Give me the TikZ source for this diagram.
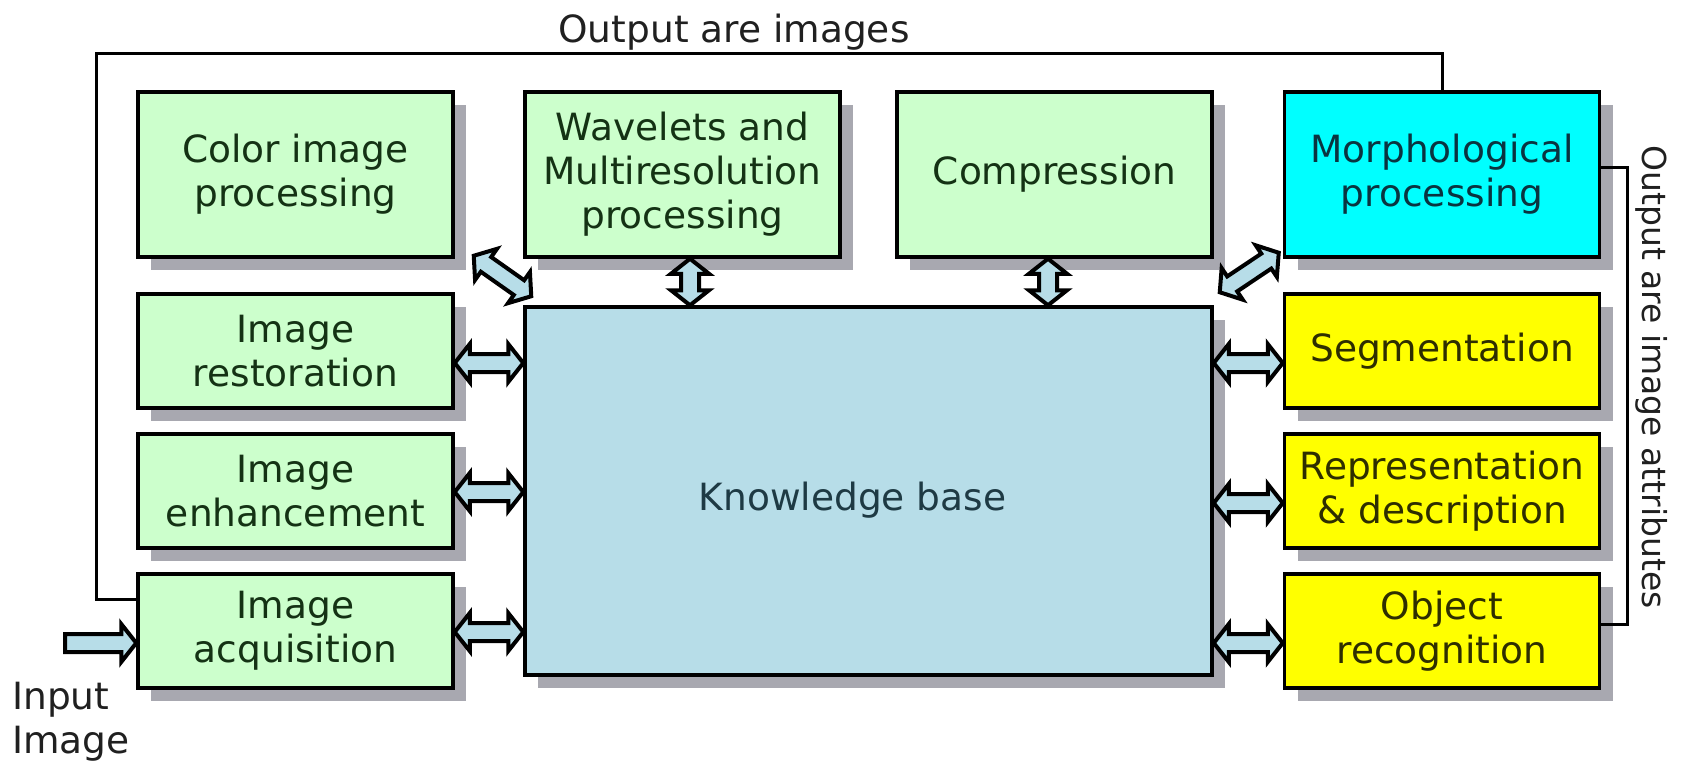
\documentclass[tikz,border=0pt]{standalone}
\usepackage{fontspec}
\setmainfont{DejaVu Sans}
\usetikzlibrary{calc,shadows}

\definecolor{boxgreen}{HTML}{CCFFCC}
\definecolor{boxcyan}{HTML}{00FFFF}
\definecolor{boxyellow}{HTML}{FFFF00}
\definecolor{kbblue}{HTML}{B7DDE8}
\definecolor{arrowblue}{HTML}{B7DDE8}
\definecolor{shade}{HTML}{A8A8B0}
\definecolor{txtgreen}{HTML}{143214}
\definecolor{txtcyan}{HTML}{0A3440}
\definecolor{txtyellow}{HTML}{2E2E00}
\definecolor{txtkb}{HTML}{1E3A44}
\definecolor{txtout}{HTML}{202020}

\tikzset{
  stage/.style={draw=black, line width=3.5pt, inner sep=0pt, align=center,
    font=\fontsize{37.5}{44}\selectfont,
    drop shadow={shadow xshift=13pt, shadow yshift=-13pt, fill=shade, opacity=1}},
  wide/.style={minimum width=315pt, minimum height=165pt},
  short/.style={minimum width=315pt, minimum height=114pt},
  greenbox/.style={stage, fill=boxgreen, text=txtgreen},
  cyanbox/.style={stage, fill=boxcyan, text=txtcyan},
  yellowbox/.style={stage, fill=boxyellow, text=txtyellow},
  kbbox/.style={stage, fill=kbblue, text=txtkb, minimum width=687pt, minimum height=368pt},
  wire/.style={draw=black, line width=3pt},
  barrow/.style={draw=black, line width=4pt, fill=arrowblue, line join=miter},
  outtext/.style={inner sep=0pt, text=txtout, font=\fontsize{37.5}{44}\selectfont}
}

% fat double-headed block arrow between two named points
\newcommand\blockarrow[2]{%
  \coordinate (ba-s) at ($(#1)!15pt!(#2)$);
  \coordinate (ba-e) at ($(#2)!15pt!(#1)$);
  \draw[barrow] (#1) -- ($(ba-s)!19pt!90:(#2)$) -- ($(ba-s)!9pt!90:(#2)$)
    -- ($(ba-e)!9pt!-90:(#1)$) -- ($(ba-e)!19pt!-90:(#1)$) -- (#2)
    -- ($(ba-e)!19pt!90:(#1)$) -- ($(ba-e)!9pt!90:(#1)$)
    -- ($(ba-s)!9pt!-90:(#2)$) -- ($(ba-s)!19pt!-90:(#2)$) -- cycle;}

% fat single-headed block arrow from a tail point to a tip point
\newcommand\singleblockarrow[2]{%
  \coordinate (ba-e) at ($(#2)!15pt!(#1)$);
  \draw[barrow] ($(#1)!9pt!-90:(#2)$) -- ($(ba-e)!9pt!90:(#1)$)
    -- ($(ba-e)!19pt!90:(#1)$) -- (#2) -- ($(ba-e)!19pt!-90:(#1)$)
    -- ($(ba-e)!9pt!-90:(#1)$) -- ($(#1)!9pt!90:(#2)$) -- cycle;}

\begin{document}
\begin{tikzpicture}[x=1pt, y=-1pt]
\useasboundingbox (0,0) rectangle (1691,762);

% top row
\node[greenbox, wide]  (color) at (295.5,174.5) {Color image\\processing};
\node[greenbox, wide]  (wave)  at (682.5,174.5) {Wavelets and\\Multiresolution\\processing};
\node[greenbox, wide]  (comp)  at (1054.5,174.5) {Compression};
\node[cyanbox, wide]   (morph) at (1442,174.5) {Morphological\\processing};

% left column
\node[greenbox, short] (rest) at (295.5,351) {Image\\restoration};
\node[greenbox, short] (enh)  at (295.5,491) {Image\\enhancement};
\node[greenbox, short] (acq)  at (295.5,631) {Image\\acquisition};

% right column
\node[yellowbox, short] (seg) at (1442,351) {Segmentation};
\node[yellowbox, short] (rep) at (1442,491) {Representation\\\& description};
\node[yellowbox, short] (obj) at (1442,631) {Object\\recognition};

% centre (label set a little left of and below the middle)
\node[kbbox] (kb) at (868.5,491)
  {\hspace*{-32pt}\raisebox{-9pt}[\height][\depth]{Knowledge base}};

% feedback lines
\coordinate (loopTL) at (96,54);
\coordinate (acqin) at ([yshift=32pt]acq.west);
\draw[wire] (morph.north) |- (loopTL) |- (acqin);

\coordinate (rtop) at ([yshift=7pt]morph.east);
\coordinate (rbot) at ([yshift=7pt]obj.east);
\coordinate (rcol) at (1627,0);
\draw[wire] (rtop) -- (rcol |- rtop) -- (rcol |- rbot) -- (rbot);

% block arrows, left column
\coordinate (l1a) at ([yshift=-12pt]rest.east); \coordinate (l1b) at (kb.west |- l1a);
\coordinate (l2a) at ([yshift=-1pt]enh.east);   \coordinate (l2b) at (kb.west |- l2a);
\coordinate (l3a) at ([yshift=-1pt]acq.east);   \coordinate (l3b) at (kb.west |- l3a);
\blockarrow{l1a}{l1b}
\blockarrow{l2a}{l2b}
\blockarrow{l3a}{l3b}

% block arrows, right column
\coordinate (r1a) at ([yshift=-12pt]seg.west); \coordinate (r1b) at (kb.east |- r1a);
\coordinate (r2a) at ([yshift=-12pt]rep.west); \coordinate (r2b) at (kb.east |- r2a);
\coordinate (r3a) at ([yshift=-12pt]obj.west); \coordinate (r3b) at (kb.east |- r3a);
\blockarrow{r1b}{r1a}
\blockarrow{r2b}{r2a}
\blockarrow{r3b}{r3a}

% block arrows, top row
\coordinate (t1a) at ([xshift=7.5pt]wave.south);  \coordinate (t1b) at (kb.north -| t1a);
\coordinate (t2a) at ([xshift=-6.5pt]comp.south); \coordinate (t2b) at (kb.north -| t2a);
\blockarrow{t1a}{t1b}
\blockarrow{t2a}{t2b}

% diagonal block arrows
\coordinate (d1a) at ([xshift=19pt,yshift=3pt]color.south east);
\coordinate (d1b) at ([xshift=8pt,yshift=9pt]kb.north west);
\blockarrow{d1a}{d1b}
\coordinate (d2a) at ([xshift=6pt,yshift=13pt]kb.north east);
\coordinate (d2b) at ([xshift=-4pt,yshift=6pt]morph.south west);
\blockarrow{d2a}{d2b}

% input arrow
\coordinate (inTail) at (65,643);
\coordinate (inTip) at (acq.west |- inTail);
\singleblockarrow{inTail}{inTip}

% free labels
\node[outtext] (outimg) at (734,32) {Output are images};
\node[outtext, rotate=-90, font=\fontsize{33}{40}\selectfont] (outattr) at (1652,377) {Output are image attributes};
\node[outtext, align=left, anchor=north west] (input) at (12,682) {Input\\Image};
\end{tikzpicture}
\end{document}
